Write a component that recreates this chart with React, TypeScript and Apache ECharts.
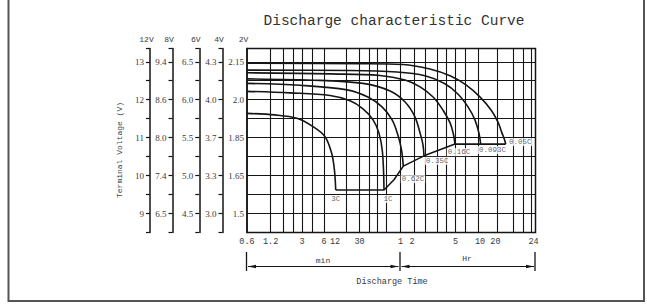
import React, { useEffect, useRef } from "react";
import * as echarts from "echarts";

// ---- data (x = relative position on the discharge-time scale, 0..100; y = terminal voltage of a 12V battery) ----
const RATES = ["3C", "1C", "0.62C", "0.35C", "0.16C", "0.093C", "0.05C"];
const CURVE_3C = [[0, 11.64], [9.7, 11.6], [17.3, 11.51], [22.9, 11.29], [27.0, 11.03], [29.3, 10.6], [30.3, 10.15], [30.75, 9.62]];
const CURVE_1C = [[0, 12.22], [14.9, 12.18], [28.8, 12.11], [35.7, 11.97], [40.2, 11.76], [43.7, 11.47], [45.75, 11.12], [46.96, 10.62], [47.49, 9.62]];
const CURVE_062C = [[0, 12.43], [18.4, 12.38], [34.7, 12.26], [41.9, 12.07], [46.8, 11.81], [50.3, 11.47], [52.3, 11.07], [53.55, 10.68], [54.18, 10.25]];
const CURVE_035C = [[0, 12.55], [25.3, 12.51], [40.2, 12.43], [49.6, 12.23], [54.8, 11.94], [58.2, 11.55], [60.0, 11.12], [61.0, 10.81], [61.35, 10.52]];
const CURVE_016C = [[0, 12.71], [28.8, 12.68], [46.1, 12.64], [54.8, 12.52], [60.0, 12.34], [64.5, 12.07], [67.9, 11.73], [70.4, 11.39], [71.6, 11.07], [72.1, 10.83]];
const CURVE_0093C = [[0, 12.78], [35.7, 12.77], [52.0, 12.73], [61.7, 12.63], [68.6, 12.42], [73.1, 12.15], [76.6, 11.81], [79.0, 11.47], [80.4, 11.12], [81.0, 10.83]];
const CURVE_005C = [[0, 12.96], [39.2, 12.95], [54.1, 12.93], [63.4, 12.81], [70.4, 12.63], [75.9, 12.39], [80.8, 12.07], [84.6, 11.73], [87.0, 11.41], [88.4, 11.12], [89.3, 10.94], [89.67, 10.83]];
const END_LINE = [[30.75, 9.62], [47.49, 9.62], [50.95, 9.89], [54.18, 10.25], [61.35, 10.52], [72.1, 10.83], [81.0, 10.83], [89.67, 10.83]];
const CURVES = [CURVE_3C, CURVE_1C, CURVE_062C, CURVE_035C, CURVE_016C, CURVE_0093C, CURVE_005C];

const GRID_X = [8.2, 12.5, 15.9, 19.1, 22.5, 26.7, 34.5, 39.0, 42.5, 45.2, 48.2, 53.2, 58.1, 61.7, 65.9, 69.2, 72.3, 75.6, 80.1, 86.7, 92.4, 95.8, 98.6];
const X_LABEL_POS = [0, 8.2, 19.1, 26.7, 30.5, 39.0, 53.2, 57.2, 72.3, 80.8, 86.1, 99.3];
const X_LABELS = ["0.6", "1.2", "3", "6", "12", "30", "1", "2", "5", "10", "20", "24"];

const Y_POS = [9, 10, 11, 12, 13];
const Y_TICKS = [8.5, 9, 9.5, 10, 10.5, 11, 11.5, 12, 12.5, 13, 13.35];
const V12 = ["9", "10", "11", "12", "13"];
const V8 = ["6.5", "7.4", "8.0", "8.6", "9.4"];
const V6 = ["4.5", "5.0", "5.5", "6.0", "6.5"];
const V4 = ["3.0", "3.3", "3.7", "4.0", "4.3"];
const V2 = ["1.5", "1.65", "1.85", "2.0", "2.15"];

// ---- styles ----
const FONT = "Liberation Mono";
const SERIF = "Liberation Serif";
const INK = "#151515";
const TXT = "#3a3a3a";
const LABEL_STYLE = [
  { dx: 0, dy: 9, align: "center" },
  { dx: 4, dy: 9, align: "center" },
  { dx: -2.6, dy: 13, align: "left" },
  { dx: 1, dy: 5, align: "left" },
  { dx: -8.3, dy: 8, align: "left" },
  { dx: -2.7, dy: 6, align: "left" },
  { dx: 2.3, dy: -2, align: "left" },
];

function mkY(labels: string[], name: string, offset: number, withTicks: boolean) {
  return {
    type: "value",
    position: "left",
    offset,
    min: 8.5,
    max: 13.35,
    interval: 0.5,
    name,
    nameLocation: "end",
    nameGap: 5,
    nameTextStyle: { fontFamily: FONT, fontSize: 8, color: TXT, align: "center", verticalAlign: "bottom", padding: [0, 7, 0, 0] },
    axisLine: { show: true, onZero: false, lineStyle: { color: INK, width: 1.5 } },
    axisTick: withTicks
      ? { show: true, length: 4, customValues: Y_TICKS, lineStyle: { color: INK, width: 1.2 } }
      : { show: false },
    axisLabel: {
      customValues: Y_POS,
      formatter: (v: number) => labels[Math.round(v) - 9],
      margin: withTicks ? 6 : 3,
      fontFamily: SERIF,
      fontSize: 9,
      color: TXT,
    },
    splitLine: withTicks ? { show: false } : { show: true, lineStyle: { color: INK, width: 1.1 } },
  };
}

function arrow(tipX: number, y: number, dir: number) {
  return {
    type: "polygon",
    shape: { points: [[tipX, y], [tipX - dir * 8, y - 1.8], [tipX - dir * 8, y + 1.8]] },
    style: { fill: INK },
  };
}

export default function App() {
  const ref = useRef<HTMLDivElement>(null);
  useEffect(() => {
    if (!ref.current) return;
    const chart = echarts.init(ref.current, null, { renderer: "svg" });
    const lineSeries = CURVES.map((c, i) => ({
      type: "line",
      name: RATES[i],
      data: c,
      symbol: "none",
      smooth: 0.35,
      lineStyle: { color: INK, width: 1.6 },
      silent: true,
      z: 3,
    }));
    const labelData = CURVES.map((c, i) => ({
      value: c[c.length - 1],
      name: RATES[i],
      label: {
        position: [LABEL_STYLE[i].dx, LABEL_STYLE[i].dy],
        align: LABEL_STYLE[i].align,
      },
    }));
    const option = {
      animation: false,
      grid: { left: 247, top: 48.5, width: 288.5, height: 184, show: true, borderColor: INK, borderWidth: 1.5, backgroundColor: "transparent" },
      xAxis: {
        type: "value",
        min: 0,
        max: 100,
        axisLine: { show: false },
        axisTick: { show: false, customValues: GRID_X },
        splitLine: { show: true, lineStyle: { color: INK, width: 1.1 } },
        axisLabel: {
          customValues: X_LABEL_POS,
          formatter: (v: number) => {
            const idx = X_LABEL_POS.findIndex((p) => Math.abs(p - v) < 1e-6);
            return idx >= 0 ? X_LABELS[idx] : "";
          },
          margin: 5,
          fontFamily: FONT,
          fontSize: 8.5,
          color: TXT,
        },
      },
      yAxis: [
        mkY(V2, "2V", 0, false),
        mkY(V4, "4V", 24.5, true),
        mkY(V6, "6V", 47.7, true),
        mkY(V8, "8V", 74.5, true),
        mkY(V12, "12V", 97, true),
      ],
      series: [
        ...lineSeries,
        {
          type: "line",
          name: "end",
          data: END_LINE,
          symbol: "none",
          lineStyle: { color: INK, width: 1.6 },
          silent: true,
          z: 3,
        },
        {
          type: "scatter",
          data: labelData,
          symbolSize: 0,
          silent: true,
          z: 5,
          label: {
            show: true,
            formatter: (p: any) => p.name,
            verticalAlign: "middle",
            fontFamily: FONT,
            fontSize: 7.5,
            color: TXT,
            backgroundColor: "#fff",
            padding: [0, 1],
          },
        },
      ],
      graphic: [
        {
          type: "rect",
          shape: { x: 8.5, y: -5, width: 635.5, height: 306 },
          style: { fill: "none", stroke: "#555", lineWidth: 2 },
          silent: true,
        },
        {
          type: "text",
          x: 394,
          y: 21,
          style: { text: "Discharge characteristic Curve", font: `14.5px "${FONT}"`, fill: "#333", align: "center", verticalAlign: "middle" },
        },
        {
          type: "text",
          x: 119.5,
          y: 150,
          rotation: Math.PI / 2,
          style: { text: "Terminal Voltage (V)", font: `8px "${FONT}"`, fill: TXT, align: "center", verticalAlign: "middle" },
        },
        { type: "line", shape: { x1: 246.5, y1: 252, x2: 246.5, y2: 271 }, style: { stroke: INK, lineWidth: 1.3 } },
        { type: "line", shape: { x1: 400, y1: 252, x2: 400, y2: 271 }, style: { stroke: INK, lineWidth: 1.3 } },
        { type: "line", shape: { x1: 535, y1: 252, x2: 535, y2: 271 }, style: { stroke: INK, lineWidth: 1.3 } },
        { type: "line", shape: { x1: 248, y1: 266.5, x2: 398.5, y2: 266.5 }, style: { stroke: INK, lineWidth: 1 } },
        { type: "line", shape: { x1: 401.5, y1: 266.5, x2: 534, y2: 266.5 }, style: { stroke: INK, lineWidth: 1 } },
        arrow(248, 266.5, -1),
        arrow(398.5, 266.5, 1),
        arrow(401.5, 266.5, -1),
        arrow(534, 266.5, 1),
        { type: "text", x: 323, y: 260, style: { text: "min", font: `8px "${FONT}"`, fill: TXT, align: "center", verticalAlign: "middle" } },
        { type: "text", x: 467, y: 258, style: { text: "Hr", font: `8px "${FONT}"`, fill: TXT, align: "center", verticalAlign: "middle" } },
        { type: "text", x: 392, y: 282, style: { text: "Discharge Time", font: `8.5px "${FONT}"`, fill: TXT, align: "center", verticalAlign: "middle" } },
      ],
    };
    chart.setOption(option as any);
    return () => chart.dispose();
  }, []);
  return <div ref={ref} style={{ position: "absolute", left: 0, top: 0, width: 647, height: 305, background: "#fff" }} />;
}
